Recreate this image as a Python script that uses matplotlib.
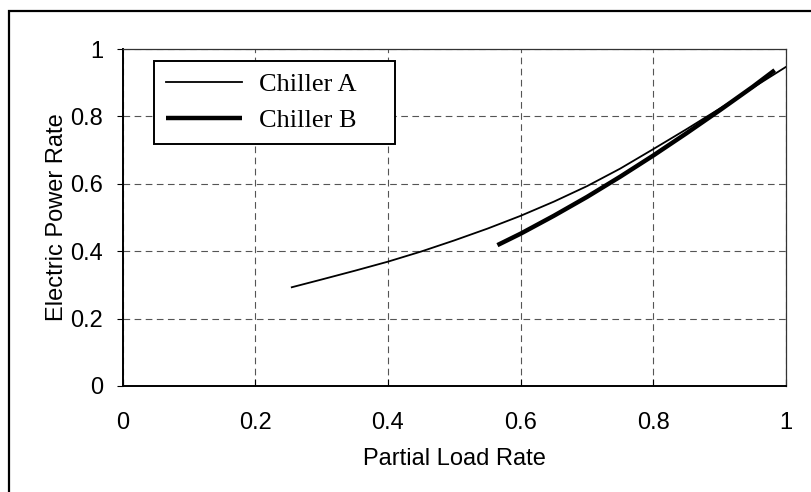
import numpy as np
import matplotlib
matplotlib.use('Agg')
from matplotlib import pyplot as plt
from matplotlib.patches import Rectangle

# values
plr_a = [0.255, 0.30, 0.35, 0.40, 0.45, 0.50, 0.55, 0.60, 0.65, 0.70, 0.75, 0.80, 0.85, 0.90, 0.95, 1.00]
power_a = [0.293, 0.316, 0.342, 0.369, 0.399, 0.432, 0.467, 0.505, 0.547, 0.593, 0.645, 0.703, 0.762, 0.823, 0.885, 0.947]

plr_b = [0.565, 0.60, 0.65, 0.70, 0.75, 0.80, 0.85, 0.90, 0.95, 0.983]
power_b = [0.418, 0.452, 0.505, 0.561, 0.621, 0.684, 0.750, 0.818, 0.888, 0.937]

ticks = [0, 0.2, 0.4, 0.6, 0.8, 1]
tick_labels = ['0', '0.2', '0.4', '0.6', '0.8', '1']

W, H = 811, 492
fig = plt.figure(figsize=(W / 100, H / 100), dpi=100)
ax = fig.add_axes([122.6 / W, 1 - 386 / H, (786 - 122.6) / W, (386 - 49) / H])

# outer frame, cut off at right and bottom
fig.patches.append(Rectangle((9 / W, -0.1), 1.2, 1 - 11 / H + 0.1, transform=fig.transFigure,
                             fill=False, edgecolor='black', linewidth=1.6))

ax.plot(plr_a, power_a, color='black', linewidth=1.3, label='Chiller A')
ax.plot(plr_b, power_b, color='black', linewidth=3.2, label='Chiller B', solid_capstyle='butt')

ax.set_xlim(0, 1)
ax.set_ylim(0, 1)
ax.set_xticks(ticks)
ax.set_yticks(ticks)
ax.set_xticklabels(tick_labels, fontsize=17, family='Liberation Sans')
ax.set_yticklabels(tick_labels, fontsize=17, family='Liberation Sans')
ax.tick_params(axis='x', direction='in', length=5, width=0.8, pad=19)
ax.tick_params(axis='y', direction='out', length=4, width=0.8, pad=10)
ax.grid(True, color='#555555', linestyle=(0, (6, 4)), linewidth=0.8)

for s in ['left', 'bottom']:
    ax.spines[s].set_linewidth(1.4)
for s in ['top', 'right']:
    ax.spines[s].set_linewidth(0.9)
    ax.spines[s].set_color('#333333')

ax.set_xlabel('Partial Load Rate', fontsize=17, family='Liberation Sans', labelpad=10)
ax.set_ylabel('Electric Power Rate', fontsize=17, family='Liberation Sans', labelpad=1.5)

leg = ax.legend(['Chiller A    ', 'Chiller B    '], loc='upper left',
                bbox_to_anchor=(0.047, 0.964), borderaxespad=0,
                prop={'family': 'Liberation Serif', 'size': 19}, handlelength=2.9,
                fancybox=False, framealpha=1, edgecolor='black', borderpad=0.45,
                labelspacing=0.45, handletextpad=0.65)
leg.get_frame().set_linewidth(1.4)

fig.savefig('out.png', dpi=100)
